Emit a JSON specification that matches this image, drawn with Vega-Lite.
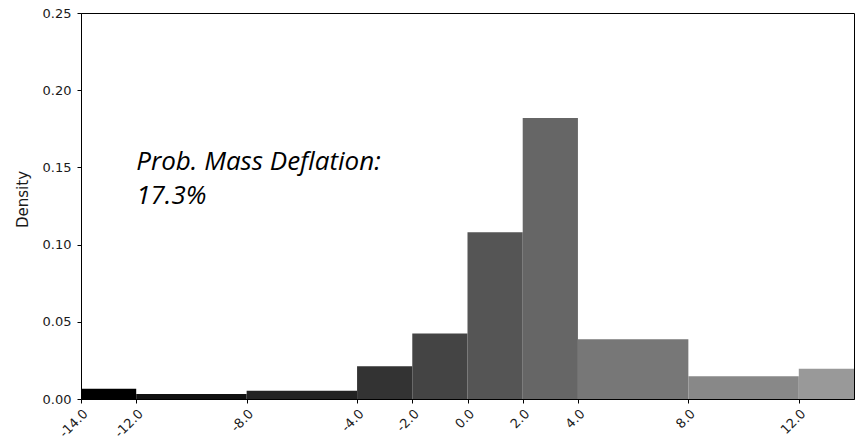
{
  "$schema": "https://vega.github.io/schema/vega-lite/v6.json",
  "width": 773,
  "height": 386,
  "autosize": {"type": "none"},
  "padding": {"left": 81, "top": 13, "right": 4, "bottom": 44},
  "background": "white",
  "config": {
    "view": {"stroke": "black", "strokeWidth": 1},
    "axis": {
      "domainColor": "black",
      "tickColor": "black",
      "labelColor": "#1a1a1a",
      "labelFont": "DejaVu Sans",
      "labelFontSize": 13,
      "titleFont": "DejaVu Sans",
      "titleFontSize": 15,
      "titleFontWeight": "normal",
      "titleColor": "#1a1a1a",
      "grid": false,
      "tickSize": 4
    }
  },
  "datasets": {
    "bins": [
      {"lo": -14, "hi": -12, "density": 0.0067},
      {"lo": -12, "hi": -8, "density": 0.0032},
      {"lo": -8, "hi": -4, "density": 0.0054},
      {"lo": -4, "hi": -2, "density": 0.0212},
      {"lo": -2, "hi": 0, "density": 0.0425},
      {"lo": 0, "hi": 2, "density": 0.108},
      {"lo": 2, "hi": 4, "density": 0.182},
      {"lo": 4, "hi": 8, "density": 0.0387},
      {"lo": 8, "hi": 12, "density": 0.0147},
      {"lo": 12, "hi": 14, "density": 0.0196}
    ],
    "note": [
      {"x": -12, "y": 0.1483, "label": ["Prob. Mass Deflation:", "17.3%"]}
    ]
  },
  "layer": [
    {
      "data": {"name": "bins"},
      "mark": {"type": "rect", "clip": true},
      "encoding": {
        "x": {
          "field": "lo",
          "type": "quantitative",
          "scale": {"domain": [-14, 14], "nice": false, "zero": false},
          "axis": {
            "values": [-14, -12, -8, -4, -2, 0, 2, 4, 8, 12],
            "labelExpr": "replace(format(datum.value, '.1f'), '\u2212', '-')",
            "labelAngle": -45,
            "labelAlign": "right",
            "labelBaseline": "top",
            "labelPadding": 4,
            "title": null
          }
        },
        "x2": {"field": "hi"},
        "y": {
          "field": "density",
          "type": "quantitative",
          "scale": {"domain": [0, 0.25], "nice": false},
          "axis": {
            "values": [0, 0.05, 0.1, 0.15, 0.2, 0.25],
            "format": ".2f",
            "labelPadding": 6,
            "title": "Density",
            "titlePadding": 12,
            "titleY": 186
          }
        },
        "y2": {"datum": 0},
        "color": {
          "field": "lo",
          "type": "ordinal",
          "scale": {
            "domain": [-14, -12, -8, -4, -2, 0, 2, 4, 8, 12],
            "range": ["#000000", "#111111", "#222222", "#333333", "#444444", "#555555", "#666666", "#777777", "#888888", "#999999"]
          },
          "legend": null
        }
      }
    },
    {
      "data": {"name": "note"},
      "mark": {
        "type": "text",
        "font": "Open Sans",
        "fontStyle": "italic",
        "fontSize": 26,
        "align": "left",
        "baseline": "alphabetic",
        "lineHeight": 34,
        "color": "black"
      },
      "encoding": {
        "x": {"field": "x", "type": "quantitative"},
        "y": {"field": "y", "type": "quantitative"},
        "text": {"field": "label"}
      }
    }
  ]
}
